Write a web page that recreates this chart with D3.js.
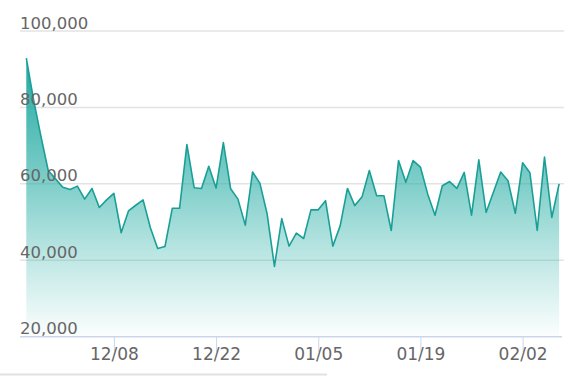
<!DOCTYPE html>
<html>
<head>
<meta charset="utf-8">
<script src="https://cdn.jsdelivr.net/npm/d3@7"></script>
<style>
  html, body { margin: 0; padding: 0; background: #fff; }
  svg { display: block; }
</style>
</head>
<body>
<svg id="chart" width="570" height="376"></svg>
<script>
const dates = [
  "2019-11-26","2019-11-27","2019-11-28","2019-11-29","2019-11-30",
  "2019-12-01","2019-12-02","2019-12-03","2019-12-04","2019-12-05","2019-12-06","2019-12-07",
  "2019-12-08","2019-12-09","2019-12-10","2019-12-11","2019-12-12","2019-12-13","2019-12-14",
  "2019-12-15","2019-12-16","2019-12-17","2019-12-18","2019-12-19","2019-12-20","2019-12-21",
  "2019-12-22","2019-12-23","2019-12-24","2019-12-25","2019-12-26","2019-12-27","2019-12-28",
  "2019-12-29","2019-12-30","2019-12-31","2020-01-01","2020-01-02","2020-01-03","2020-01-04",
  "2020-01-05","2020-01-06","2020-01-07","2020-01-08","2020-01-09","2020-01-10","2020-01-11",
  "2020-01-12","2020-01-13","2020-01-14","2020-01-15","2020-01-16","2020-01-17","2020-01-18",
  "2020-01-19","2020-01-20","2020-01-21","2020-01-22","2020-01-23","2020-01-24","2020-01-25",
  "2020-01-26","2020-01-27","2020-01-28","2020-01-29","2020-01-30","2020-01-31","2020-02-01",
  "2020-02-02","2020-02-03","2020-02-04","2020-02-05","2020-02-06","2020-02-07"
];
const values = [
  92900, 82000, 72500, 63500, 61300, 59100, 58500, 59400, 56000, 58800,
  53800, 55800, 57500, 47200, 52900, 54400, 55800, 48500, 43100, 43600,
  53600, 53600, 70300, 59000, 58800, 64600, 58900, 70800, 58700, 56000,
  49200, 63100, 60200, 52100, 38400, 50900, 43700, 47100, 45700, 53200,
  53200, 55600, 43700, 49000, 58800, 54300, 56600, 63500, 56900, 56900,
  47800, 66100, 60400, 66100, 64400, 57300, 51800, 59500, 60600, 58800,
  63000, 51800, 66300, 52500, 57800, 63100, 60800, 52300, 65500, 62900,
  47800, 67000, 51200, 60000
];
const yTicks = [20000, 40000, 60000, 80000, 100000];
const xTickDates = ["2019-12-08", "2019-12-22", "2020-01-05", "2020-01-19", "2020-02-02"];

const parse = d3.utcParse("%Y-%m-%d");
const data = dates.map((d, i) => ({ date: parse(d), value: values[i] }));

const svg = d3.select("#chart");
const gridLeft = 20, gridRight = 564;

const x = d3.scaleUtc()
  .domain(d3.extent(data, d => d.date))
  .range([26.3, 559.1]);
const y = d3.scaleLinear()
  .domain([20000, 100000])
  .range([336.7, 31]);

// gradient
const defs = svg.append("defs");
const grad = defs.append("linearGradient")
  .attr("id", "fillGrad")
  .attr("gradientUnits", "userSpaceOnUse")
  .attr("x1", 0).attr("x2", 0)
  .attr("y1", y(d3.max(values))).attr("y2", y(20000));
grad.append("stop").attr("offset", "0%").attr("stop-color", "#1fa79f").attr("stop-opacity", 1);
grad.append("stop").attr("offset", "45%").attr("stop-color", "#2aaea6").attr("stop-opacity", 0.6);
grad.append("stop").attr("offset", "100%").attr("stop-color", "#3cb9b1").attr("stop-opacity", 0.02);

// grid lines
svg.append("g")
  .selectAll("line")
  .data(yTicks.filter(t => t !== 20000))
  .join("line")
  .attr("x1", gridLeft).attr("x2", gridRight)
  .attr("y1", d => y(d)).attr("y2", d => y(d))
  .attr("stroke", "#e3e3e3")
  .attr("stroke-width", 1.5);

// area + line
const area = d3.area()
  .x(d => x(d.date))
  .y0(y(20000))
  .y1(d => y(d.value));
const line = d3.line()
  .x(d => x(d.date))
  .y(d => y(d.value));

svg.append("path")
  .datum(data)
  .attr("d", area)
  .attr("fill", "url(#fillGrad)");

svg.append("path")
  .datum(data)
  .attr("d", line)
  .attr("fill", "none")
  .attr("stroke", "#1a9f97")
  .attr("stroke-width", 1.6)
  .attr("stroke-linejoin", "round");

// x axis
const xAxisG = svg.append("g").attr("transform", `translate(0,${y(20000)})`);
xAxisG.call(
  d3.axisBottom(x)
    .tickValues(xTickDates.map(parse))
    .tickFormat(d3.utcFormat("%m/%d"))
    .tickSize(15)
    .tickPadding(3)
);
xAxisG.select(".domain").remove();
xAxisG.insert("line", ":first-child")
  .attr("x1", gridLeft).attr("x2", gridRight - 2)
  .attr("y1", 0).attr("y2", 0)
  .attr("stroke", "#ccd6eb")
  .attr("stroke-width", 1.5);
xAxisG.selectAll(".tick line").attr("stroke", "#ccd6eb").attr("stroke-width", 1);
xAxisG.selectAll(".tick text")
  .attr("fill", "#666")
  .attr("font-family", "DejaVu Sans, sans-serif")
  .attr("font-size", 17)
  .attr("dy", "0.3em");

// y labels (left-aligned above grid lines)
const yAxisG = svg.append("g");
yAxisG.call(d3.axisLeft(y).tickValues(yTicks).tickFormat(d3.format(",")).tickSize(0));
yAxisG.select(".domain").remove();
yAxisG.selectAll(".tick text")
  .attr("x", gridLeft)
  .attr("dy", "-3")
  .attr("text-anchor", "start")
  .attr("fill", "#666")
  .attr("font-family", "DejaVu Sans, sans-serif")
  .attr("font-size", 16.5);

// bottom light rule
svg.append("line")
  .attr("x1", 0).attr("x2", 327)
  .attr("y1", 374.5).attr("y2", 374.5)
  .attr("stroke", "#e2e2e2")
  .attr("stroke-width", 2);
</script>
</body>
</html>
